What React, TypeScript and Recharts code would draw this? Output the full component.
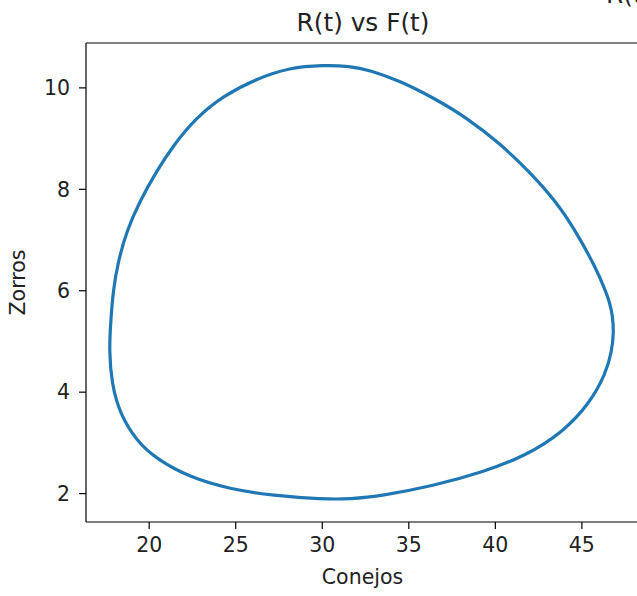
import { LineChart, Line, XAxis, YAxis } from 'recharts';

// Orbit, counter-clockwise starting at the top (closed by the curve)
const conejos = [
  30.04, 28.12, 26.2, 24.27, 22.74, 21.38, 20.43, 19.46, 18.7, 18.21, 17.92, 17.77, 17.69, 17.83,
  18.31, 19.27, 20.43, 22.35, 24.66, 27.16, 30.04, 31.58, 33.5, 36.39, 39.27, 41.78, 43.89, 45.43,
  46.39, 46.72, 46.84, 46.78, 46.6, 46.3, 45.82, 44.66, 43.51, 41.97, 40.24, 38.32, 36.39, 34.47,
  32.74, 31.58,
];
const zorros = [
  10.45, 10.4, 10.18, 9.84, 9.42, 8.86, 8.36, 7.77, 7.18, 6.58, 6.02, 5.36, 4.83, 4.17,
  3.57, 3.04, 2.68, 2.32, 2.09, 1.96, 1.89, 1.89, 1.96, 2.15, 2.42, 2.75, 3.21, 3.77,
  4.37, 4.8, 5.15, 5.5, 5.78, 6.05, 6.44, 7.17, 7.76, 8.35, 8.91, 9.42, 9.81, 10.14,
  10.35, 10.43,
];
const xTicks = [20, 25, 30, 35, 40, 45];
const yTicks = [2, 4, 6, 8, 10];

const data = conejos.map((c, i) => ({ conejos: c, zorros: zorros[i] }));

const FONT = '"DejaVu Sans", sans-serif';
const INK = '#222';

const App = () => {
  const tickStyle = { fontSize: 20.5, fill: INK, fontFamily: FONT };

  return (
    <div
      style={{
        position: 'absolute',
        left: 0,
        top: 0,
        width: 637,
        height: 596,
        overflow: 'hidden',
        background: '#fff',
        fontFamily: FONT,
      }}
    >
      <div
        style={{
          position: 'absolute',
          left: 0,
          width: 726,
          top: 11,
          textAlign: 'center',
          fontSize: 24.8,
          lineHeight: 1,
          color: INK,
        }}
      >
        R(t) vs F(t)
      </div>
      {/* next subplot's title, cut off by the right and top edges like in the screenshot */}
      <div
        style={{
          position: 'absolute',
          left: 606,
          top: -17,
          fontSize: 24.8,
          lineHeight: 1,
          color: INK,
          whiteSpace: 'nowrap',
        }}
      >
        R(t) y F(t)
      </div>
      <LineChart
        width={660}
        height={596}
        data={data}
        margin={{ top: 42, right: 20, left: 0, bottom: 0 }}
      >
        <XAxis
          dataKey="conejos"
          type="number"
          domain={[16.35, 48.3]}
          ticks={xTicks}
          allowDataOverflow
          height={74}
          tickSize={7}
          tickMargin={8}
          axisLine={{ stroke: '#000', strokeWidth: 1.2 }}
          tickLine={{ stroke: '#000', strokeWidth: 1.2 }}
          tick={tickStyle}
          label={{
            value: 'Conejos',
            position: 'insideBottom',
            offset: 12,
            style: { fontSize: 20.5, fill: INK, fontFamily: FONT, textAnchor: 'middle' },
          }}
        />
        <XAxis
          xAxisId="top"
          orientation="top"
          dataKey="conejos"
          type="number"
          domain={[16.35, 48.3]}
          height={1}
          tick={false}
          tickLine={false}
          axisLine={{ stroke: '#000', strokeWidth: 1.2 }}
        />
        <YAxis
          type="number"
          domain={[1.44, 10.885]}
          ticks={yTicks}
          allowDataOverflow
          width={86}
          tickSize={7}
          tickMargin={9}
          axisLine={{ stroke: '#000', strokeWidth: 1.2 }}
          tickLine={{ stroke: '#000', strokeWidth: 1.2 }}
          tick={tickStyle}
          label={{
            value: 'Zorros',
            angle: -90,
            position: 'insideLeft',
            offset: 18,
            style: { fontSize: 20.5, fill: INK, fontFamily: FONT, textAnchor: 'middle' },
          }}
        />
        <YAxis
          yAxisId="right"
          orientation="right"
          type="number"
          domain={[1.44, 10.885]}
          width={1}
          tick={false}
          tickLine={false}
          axisLine={{ stroke: '#000', strokeWidth: 1.2 }}
        />
        <Line
          type="basisClosed"
          dataKey="zorros"
          stroke="#1f77b4"
          strokeWidth={3.2}
          dot={false}
          activeDot={false}
          isAnimationActive={false}
        />
      </LineChart>
    </div>
  );
};

export default App;
